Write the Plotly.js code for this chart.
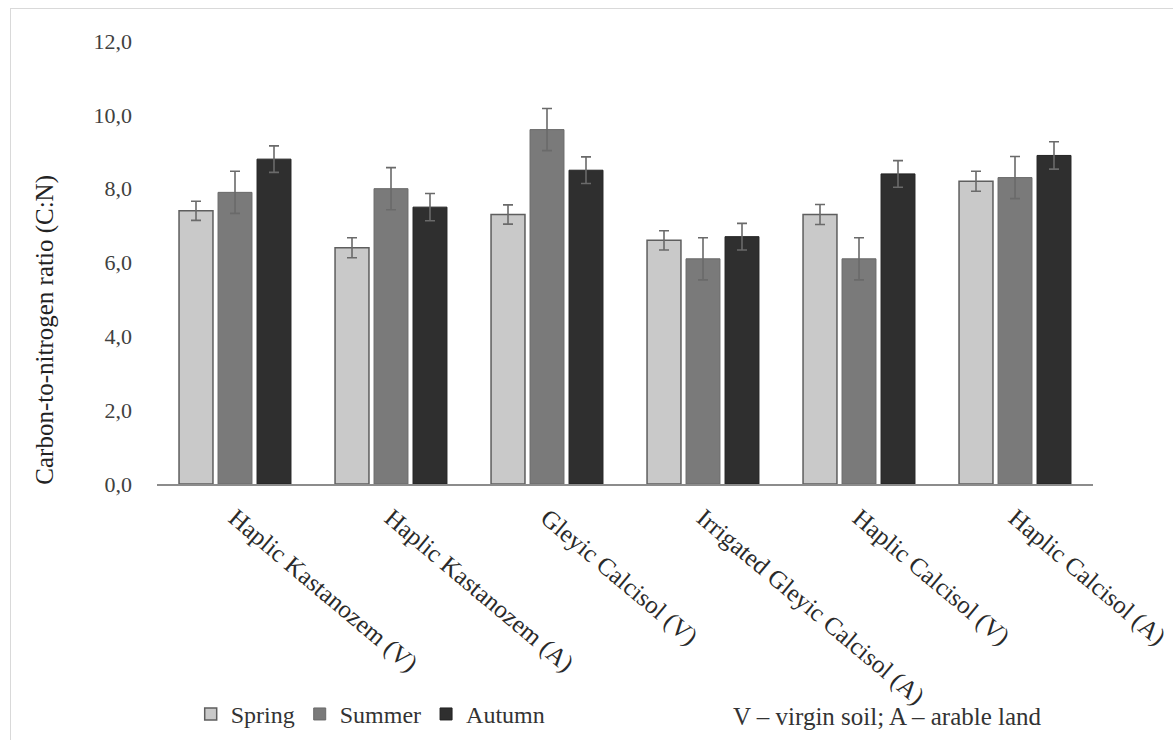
<!DOCTYPE html>
<html>
<head>
<meta charset="utf-8">
<script src="https://cdn.plot.ly/plotly-3.0.1.min.js"></script>
<style>
  html, body { margin: 0; padding: 0; background: #fff; }
  #wrap { position: relative; width: 1173px; height: 740px; }
  #frame { position: absolute; left: 10px; top: 8px; right: -2px; bottom: -2px; border-left: 1px solid #d9d9d9; border-top: 1px solid #d9d9d9; pointer-events: none; }
  #chart { position: absolute; left: 0; top: 0; width: 1173px; height: 740px; }
</style>
</head>
<body>
<div id="wrap">
  <div id="chart"></div>
  <div id="frame"></div>
</div>
<script>
const categories = [
  "Haplic Kastanozem (V)",
  "Haplic Kastanozem (A)",
  "Gleyic Calcisol (V)",
  "Irrigated Gleyic Calcisol (A)",
  "Haplic Calcisol (V)",
  "Haplic Calcisol (A)"
];
const spring = [7.4, 6.4, 7.3, 6.6, 7.3, 8.2];
const springErr = [0.26, 0.27, 0.26, 0.26, 0.27, 0.27];
const summer = [7.9, 8.0, 9.6, 6.1, 6.1, 8.3];
const summerErr = [0.57, 0.57, 0.57, 0.57, 0.57, 0.57];
const autumn = [8.8, 7.5, 8.5, 6.7, 8.4, 8.9];
const autumnErr = [0.36, 0.37, 0.36, 0.36, 0.36, 0.37];
const tickVals = [0, 2, 4, 6, 8, 10, 12];
const tickText = ["0,0", "2,0", "4,0", "6,0", "8,0", "10,0", "12,0"];

const FONT = "Liberation Serif, DejaVu Serif, serif";
const errStyle = (arr) => ({type: "data", array: arr, visible: true, color: "#6a6a6a", thickness: 1.6, width: 5});

const traces = [
  {type: "bar", name: "Spring", x: categories, y: spring, error_y: errStyle(springErr),
   marker: {color: "#c9c9c9", line: {color: "#5e5e5e", width: 1.5}}},
  {type: "bar", name: "Summer", x: categories, y: summer, error_y: errStyle(summerErr),
   marker: {color: "#7a7a7a", line: {color: "#6a6a6a", width: 1}}},
  {type: "bar", name: "Autumn", x: categories, y: autumn, error_y: errStyle(autumnErr),
   marker: {color: "#2f2f2f", line: {color: "#222222", width: 1}}}
];

const layout = {
  width: 1173, height: 740,
  margin: {l: 157, r: 80, t: 41, b: 256, autoexpand: false},
  paper_bgcolor: "rgba(0,0,0,0)",
  plot_bgcolor: "#ffffff",
  barmode: "group",
  bargap: 0.25,
  bargroupgap: 0.13,
  font: {family: FONT, size: 23, color: "#333333"},
  xaxis: {
    type: "category",
    tickangle: 40,
    automargin: false,
    showline: true, linecolor: "#8c8c8c", linewidth: 1.5,
    showgrid: false, ticks: "",
    tickfont: {family: FONT, size: 25, color: "#2a2a2a"},
    ticklabelstandoff: 8
  },
  yaxis: {
    range: [0, 12],
    automargin: false,
    tickvals: tickVals, ticktext: tickText,
    showline: false, showgrid: false, zeroline: false, ticks: "",
    tickfont: {family: FONT, size: 22, color: "#404040"},
    ticklabelstandoff: 24
  },
  showlegend: true,
  legend: {
    orientation: "h",
    x: 0.036, xanchor: "left",
    y: -0.52, yanchor: "middle",
    font: {family: FONT, size: 24, color: "#333333"},
    itemwidth: 30,
    tracegroupgap: 0
  },
  annotations: [
    {text: "Carbon-to-nitrogen ratio (C:N)", textangle: -90, showarrow: false,
     xref: "paper", yref: "paper", x: (45 - 157) / 936, y: (484 - 330) / 442,
     xanchor: "center", yanchor: "middle",
     font: {family: FONT, size: 25, color: "#222222"}},
    {text: "V – virgin soil; A – arable land", showarrow: false,
     xref: "paper", yref: "paper", x: (887 - 157) / 936, y: (484 - 716) / 442,
     xanchor: "center", yanchor: "middle",
     font: {family: FONT, size: 25, color: "#333333"}}
  ]
};

Plotly.newPlot("chart", traces, layout, {displayModeBar: false, staticPlot: true});
</script>
</body>
</html>
